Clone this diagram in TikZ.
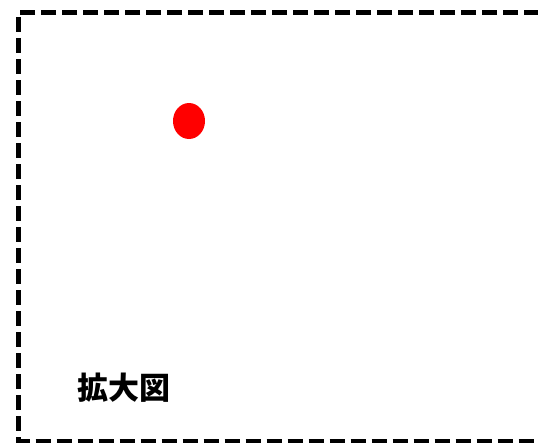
\documentclass[tikz,border=0pt]{standalone}
\usepackage{fontspec}
\newfontfamily\cjk{Noto Sans CJK JP}
\begin{document}
\begin{tikzpicture}[x=1pt,y=-1pt,
  frame/.style={draw=black,line width=4.5pt,dash pattern=on 15pt off 6pt},
  lbl/.style={font=\cjk\bfseries\fontsize{31}{33}\selectfont,anchor=center}]
\useasboundingbox (0,0) rectangle (538,445);
\draw[frame] (560,12.5) -- (18.5,12.5) -- (18.5,441) -- (560,441);
\fill[red] (189,121) ellipse [x radius=16, y radius=18];
\node[lbl] (label) at (123.5,388) {拡大図};
\end{tikzpicture}
\end{document}
